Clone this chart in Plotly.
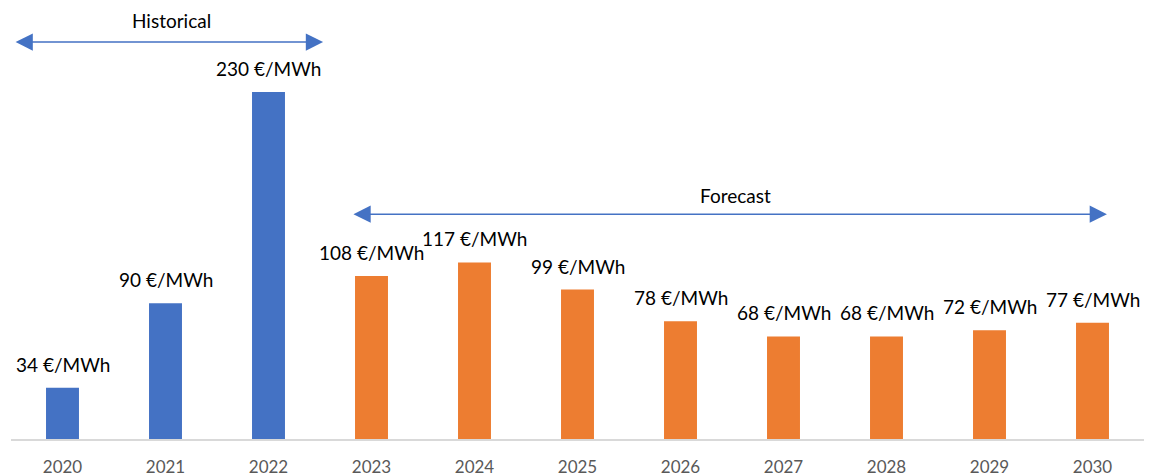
import plotly.graph_objects as go

years = ["2020", "2021", "2022", "2023", "2024", "2025", "2026", "2027", "2028", "2029", "2030"]
prices = [34, 90, 230, 108, 117, 99, 78, 68, 68, 72, 77]
n_hist = 3  # 2020-2022 historical, rest forecast
unit = " €/MWh"

BLUE = "#4472C4"
ORANGE = "#ED7D31"
FONT = "Lato"

idx = list(range(len(years)))
fig = go.Figure()
fig.add_bar(x=idx[:n_hist], y=prices[:n_hist], marker_color=BLUE, marker_line_width=0,
            width=0.32, hoverinfo="skip")
fig.add_bar(x=idx[n_hist:], y=prices[n_hist:], marker_color=ORANGE, marker_line_width=0,
            width=0.32, hoverinfo="skip")

for i, v in zip(idx, prices):
    fig.add_annotation(x=i, y=v, text=f"{v}{unit}", showarrow=False, yanchor="bottom",
                       yshift=10, font=dict(family=FONT, size=19, color="#000000"))

# Historical arrow
fig.add_annotation(x=2.53, y=263, ax=-0.47, ay=263, xref="x", yref="y", axref="x", ayref="y",
                   text="", showarrow=True, arrowhead=2, startarrowhead=2, arrowside="end+start",
                   arrowsize=2.3, startarrowsize=2.3, arrowwidth=1.5, arrowcolor=BLUE)
fig.add_annotation(x=1.06, y=263, text="Historical", showarrow=False, yanchor="bottom", yshift=8,
                   font=dict(family=FONT, size=19, color="#000000"))
# Forecast arrow
fig.add_annotation(x=10.14, y=149, ax=2.81, ay=149, xref="x", yref="y", axref="x", ayref="y",
                   text="", showarrow=True, arrowhead=2, startarrowhead=2, arrowside="end+start",
                   arrowsize=2.3, startarrowsize=2.3, arrowwidth=1.5, arrowcolor=BLUE)
fig.add_annotation(x=6.53, y=149, text="Forecast", showarrow=False, yanchor="bottom", yshift=5,
                   font=dict(family=FONT, size=19, color="#000000"))

fig.update_layout(
    width=1149, height=476,
    margin=dict(l=11, r=5, t=0, b=37),
    plot_bgcolor="white", paper_bgcolor="white",
    showlegend=False, barmode="overlay",
    font=dict(family=FONT),
)
fig.update_xaxes(range=[-0.5, len(years) - 0.5], tickmode="array", tickvals=idx, ticktext=years,
                 showline=True, linecolor="#D9D9D9", linewidth=1.5, showgrid=False, zeroline=False,
                 ticks="", tickfont=dict(family=FONT, size=17, color="#595959"), ticklabelstandoff=12)
fig.update_yaxes(range=[0, 290.9], visible=False, showgrid=False)

fig.write_html("out.html")
